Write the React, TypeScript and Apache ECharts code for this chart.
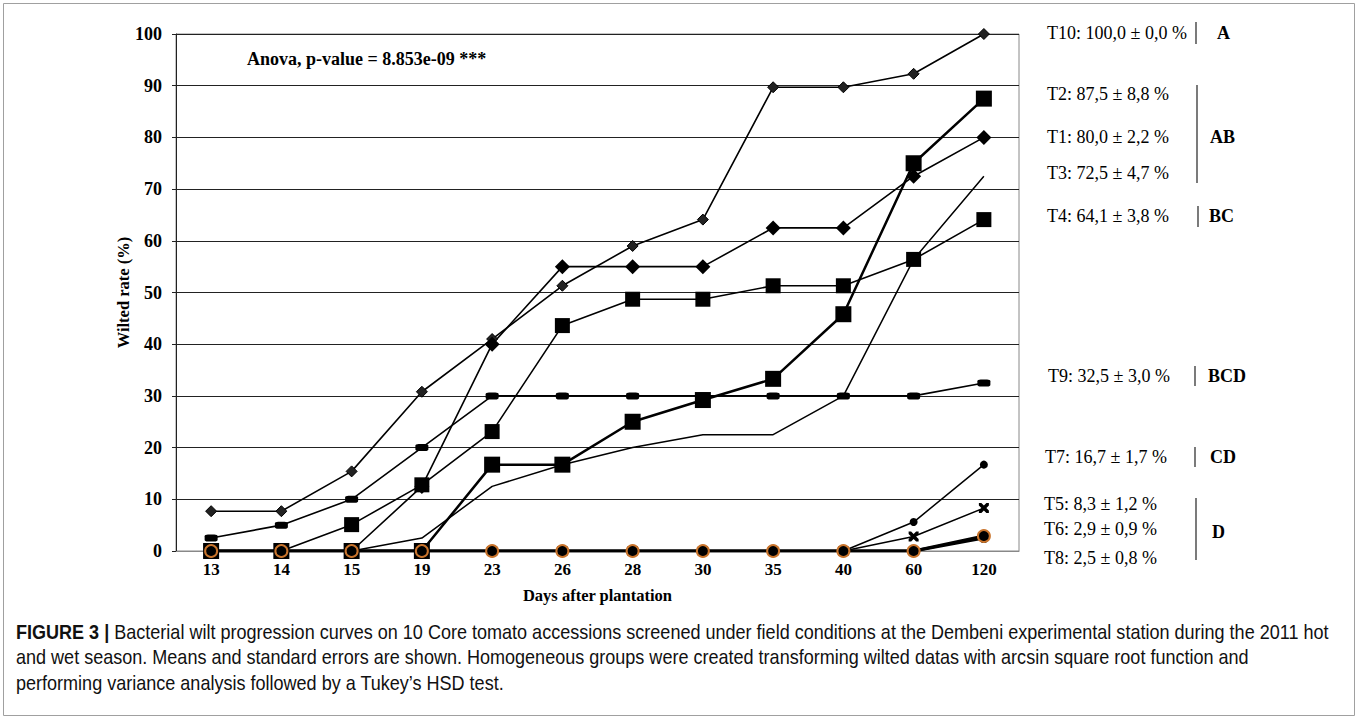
import React, { useEffect, useRef } from "react";
import * as echarts from "echarts";

const days = ["13", "14", "15", "19", "23", "26", "28", "30", "35", "40", "60", "120"];
const t10 = [7.7, 7.7, 15.4, 30.8, 41.0, 51.3, 59.0, 64.1, 89.7, 89.7, 92.3, 100];
const t2 = [0, 0, 0, 0, 16.7, 16.7, 25.0, 29.2, 33.3, 45.8, 75.0, 87.5];
const t1 = [0, 0, 0, 12.5, 40.0, 55.0, 55.0, 55.0, 62.5, 62.5, 72.5, 80.0];
const t3 = [0, 0, 0, 2.5, 12.5, 16.7, 20.0, 22.5, 22.5, 30.0, 56.4, 72.5];
const t4 = [0, 0, 5.1, 12.8, 23.1, 43.6, 48.7, 48.7, 51.3, 51.3, 56.4, 64.1];
const t9 = [2.5, 5.0, 10.0, 20.0, 30.0, 30.0, 30.0, 30.0, 30.0, 30.0, 30.0, 32.5];
const t7 = [0, 0, 0, 0, 0, 0, 0, 0, 0, 0, 5.6, 16.7];
const t5 = [0, 0, 0, 0, 0, 0, 0, 0, 0, 0, 2.8, 8.3];
const t8 = [0, 0, 0, 0, 0, 0, 0, 0, 0, 0, 0, 2.5];
const t6 = [0, 0, 0, 0, 0, 0, 0, 0, 0, 0, 0, 2.9];

const yTicks = [0, 10, 20, 30, 40, 50, 60, 70, 80, 90, 100];

const rightLabels = [
  { text: "T10: 100,0 ± 0,0 %", x: 1047, y: 33 },
  { text: "T2: 87,5 ± 8,8 %", x: 1047, y: 94 },
  { text: "T1: 80,0 ± 2,2 %", x: 1047, y: 137 },
  { text: "T3: 72,5 ± 4,7 %", x: 1047, y: 173 },
  { text: "T4: 64,1 ± 3,8 %", x: 1047, y: 216 },
  { text: "T9: 32,5 ± 3,0 %", x: 1048, y: 376 },
  { text: "T7: 16,7 ± 1,7 %", x: 1045, y: 457 },
  { text: "T5: 8,3 ± 1,2 %", x: 1044, y: 504 },
  { text: "T6: 2,9 ± 0,9 %", x: 1044, y: 529 },
  { text: "T8: 2,5 ± 0,8 %", x: 1044, y: 558 },
];
const groups = [
  { text: "A", x: 1217, y: 33, bx: 1196, y1: 22, y2: 44 },
  { text: "AB", x: 1210, y: 137, bx: 1197, y1: 85, y2: 183 },
  { text: "BC", x: 1209, y: 216, bx: 1198, y1: 206, y2: 227 },
  { text: "BCD", x: 1208, y: 376, bx: 1195, y1: 366, y2: 386 },
  { text: "CD", x: 1210, y: 457, bx: 1195, y1: 447, y2: 467 },
  { text: "D", x: 1212, y: 532, bx: 1196, y1: 498, y2: 560 },
];
const captionLines = [
  "{b|FIGURE 3 |} Bacterial wilt progression curves on 10 Core tomato accessions screened under field conditions at the Dembeni experimental station during the 2011 hot",
  "and wet season. Means and standard errors are shown. Homogeneous groups were created transforming wilted datas with arcsin square root function and",
  "performing variance analysis followed by a Tukey’s HSD test.",
];

const SERIF = '"Liberation Serif", "Times New Roman", serif';
const SANS = '"Liberation Sans", Arial, sans-serif';
const XMARK =
  "path://M0,0 L2.5,0 L5,2.5 L7.5,0 L10,0 L10,2.5 L7.5,5 L10,7.5 L10,10 L7.5,10 L5,7.5 L2.5,10 L0,10 L0,7.5 L2.5,5 L0,2.5 Z";

function line(name: string, data: number[], symbol: string, size: any, width: number, extra: any = {}) {
  return {
    name,
    type: "line",
    data,
    symbol,
    symbolSize: size,
    showSymbol: symbol !== "none",
    lineStyle: { color: "#000", width },
    itemStyle: { color: "#000" },
    ...extra,
  };
}

export default function App() {
  const ref = useRef<HTMLDivElement>(null);
  useEffect(() => {
    const chart = echarts.init(ref.current!, null, { renderer: "svg" });
    const graphic: any[] = [
      {
        type: "rect",
        shape: { x: 3.5, y: 3.5, width: 1351, height: 712 },
        style: { fill: "none", stroke: "#a0a0a0", lineWidth: 1 },
        silent: true,
      },
      {
        type: "text",
        x: 247,
        y: 59,
        style: {
          text: "Anova, p-value = 8.853e-09 ***",
          font: `bold 18px ${SERIF}`,
          fill: "#000",
          verticalAlign: "middle",
        },
      },
    ];
    rightLabels.forEach((l) =>
      graphic.push({
        type: "text",
        x: l.x,
        y: l.y,
        style: { text: l.text, font: `18px ${SERIF}`, fill: "#000", verticalAlign: "middle" },
      })
    );
    groups.forEach((g) => {
      graphic.push({
        type: "text",
        x: g.x,
        y: g.y,
        style: { text: g.text, font: `bold 18px ${SERIF}`, fill: "#000", verticalAlign: "middle" },
      });
      graphic.push({
        type: "line",
        shape: { x1: g.bx, y1: g.y1, x2: g.bx, y2: g.y2 },
        style: { stroke: "#222", lineWidth: 1.2 },
      });
    });
    captionLines.forEach((t, i) =>
      graphic.push({
        type: "text",
        x: 16,
        y: 632 + i * 25.5,
        scaleX: 0.88,
        style: {
          text: t,
          font: `20.5px ${SANS}`,
          fill: "#111",
          verticalAlign: "middle",
          rich: {
            b: { fontWeight: "bold", fontSize: 20.5, fontFamily: SANS, fill: "#111" },
          },
        },
      })
    );

    chart.setOption({
      animation: false,
      backgroundColor: "#fff",
      grid: {
        left: 176,
        right: 339,
        top: 34,
        bottom: 169,
        show: true,
        borderColor: "#888",
        borderWidth: 1,
      },
      xAxis: {
        type: "category",
        data: days,
        boundaryGap: true,
        name: "Days after plantation",
        nameLocation: "middle",
        nameGap: 36,
        nameTextStyle: { fontFamily: SERIF, fontWeight: "bold", fontSize: 16.5, color: "#000" },
        axisLine: { lineStyle: { color: "#888", width: 1 } },
        axisTick: { show: false },
        axisLabel: { fontFamily: SERIF, fontWeight: "bold", fontSize: 17, color: "#000", margin: 10 },
      },
      yAxis: {
        type: "value",
        min: 0,
        max: 100,
        interval: 10,
        name: "Wilted rate (%)",
        nameLocation: "middle",
        nameGap: 44,
        nameMoveOverlap: false,
        nameRotate: 90,
        nameTextStyle: { fontFamily: SERIF, fontWeight: "bold", fontSize: 16.5, color: "#000" },
        axisLine: { show: true, lineStyle: { color: "#222", width: 1 } },
        axisTick: { show: true, length: 4, lineStyle: { color: "#222" } },
        axisLabel: {
          fontFamily: SERIF,
          fontWeight: "bold",
          fontSize: 18,
          color: "#000",
          margin: 14,
          formatter: (v: number) => (yTicks.includes(v) ? String(v) : ""),
        },
        splitLine: { show: true, lineStyle: { color: "#222", width: 1.2 } },
      },
      graphic,
      series: [
        line("T3", t3, "none", 0, 1.5),
        line("T10", t10, "diamond", 11, 1.6, { itemStyle: { color: "#222", borderColor: "#000", borderWidth: 1 } }),
        line("T9", t9, "roundRect", [13, 7], 1.6),
        line("T1", t1, "diamond", 15, 1.6),
        line("T4", t4, "rect", 15, 1.6),
        line("T2", t2, "rect", 16, 2.5),
        line("T7", t7, "circle", 8, 1.5),
        line("T5", t5, XMARK, 10, 1.5),
        line("T8", t8, "circle", 10, 3),
        line("T6", t6, "circle", 12, 3, {
          itemStyle: { color: "#000", borderColor: "#c9742c", borderWidth: 2 },
        }),
      ],
    });
    return () => chart.dispose();
  }, []);
  return (
    <div
      ref={ref}
      style={{ position: "fixed", left: 0, top: 0, width: 1358, height: 720, background: "#fff" }}
    />
  );
}
